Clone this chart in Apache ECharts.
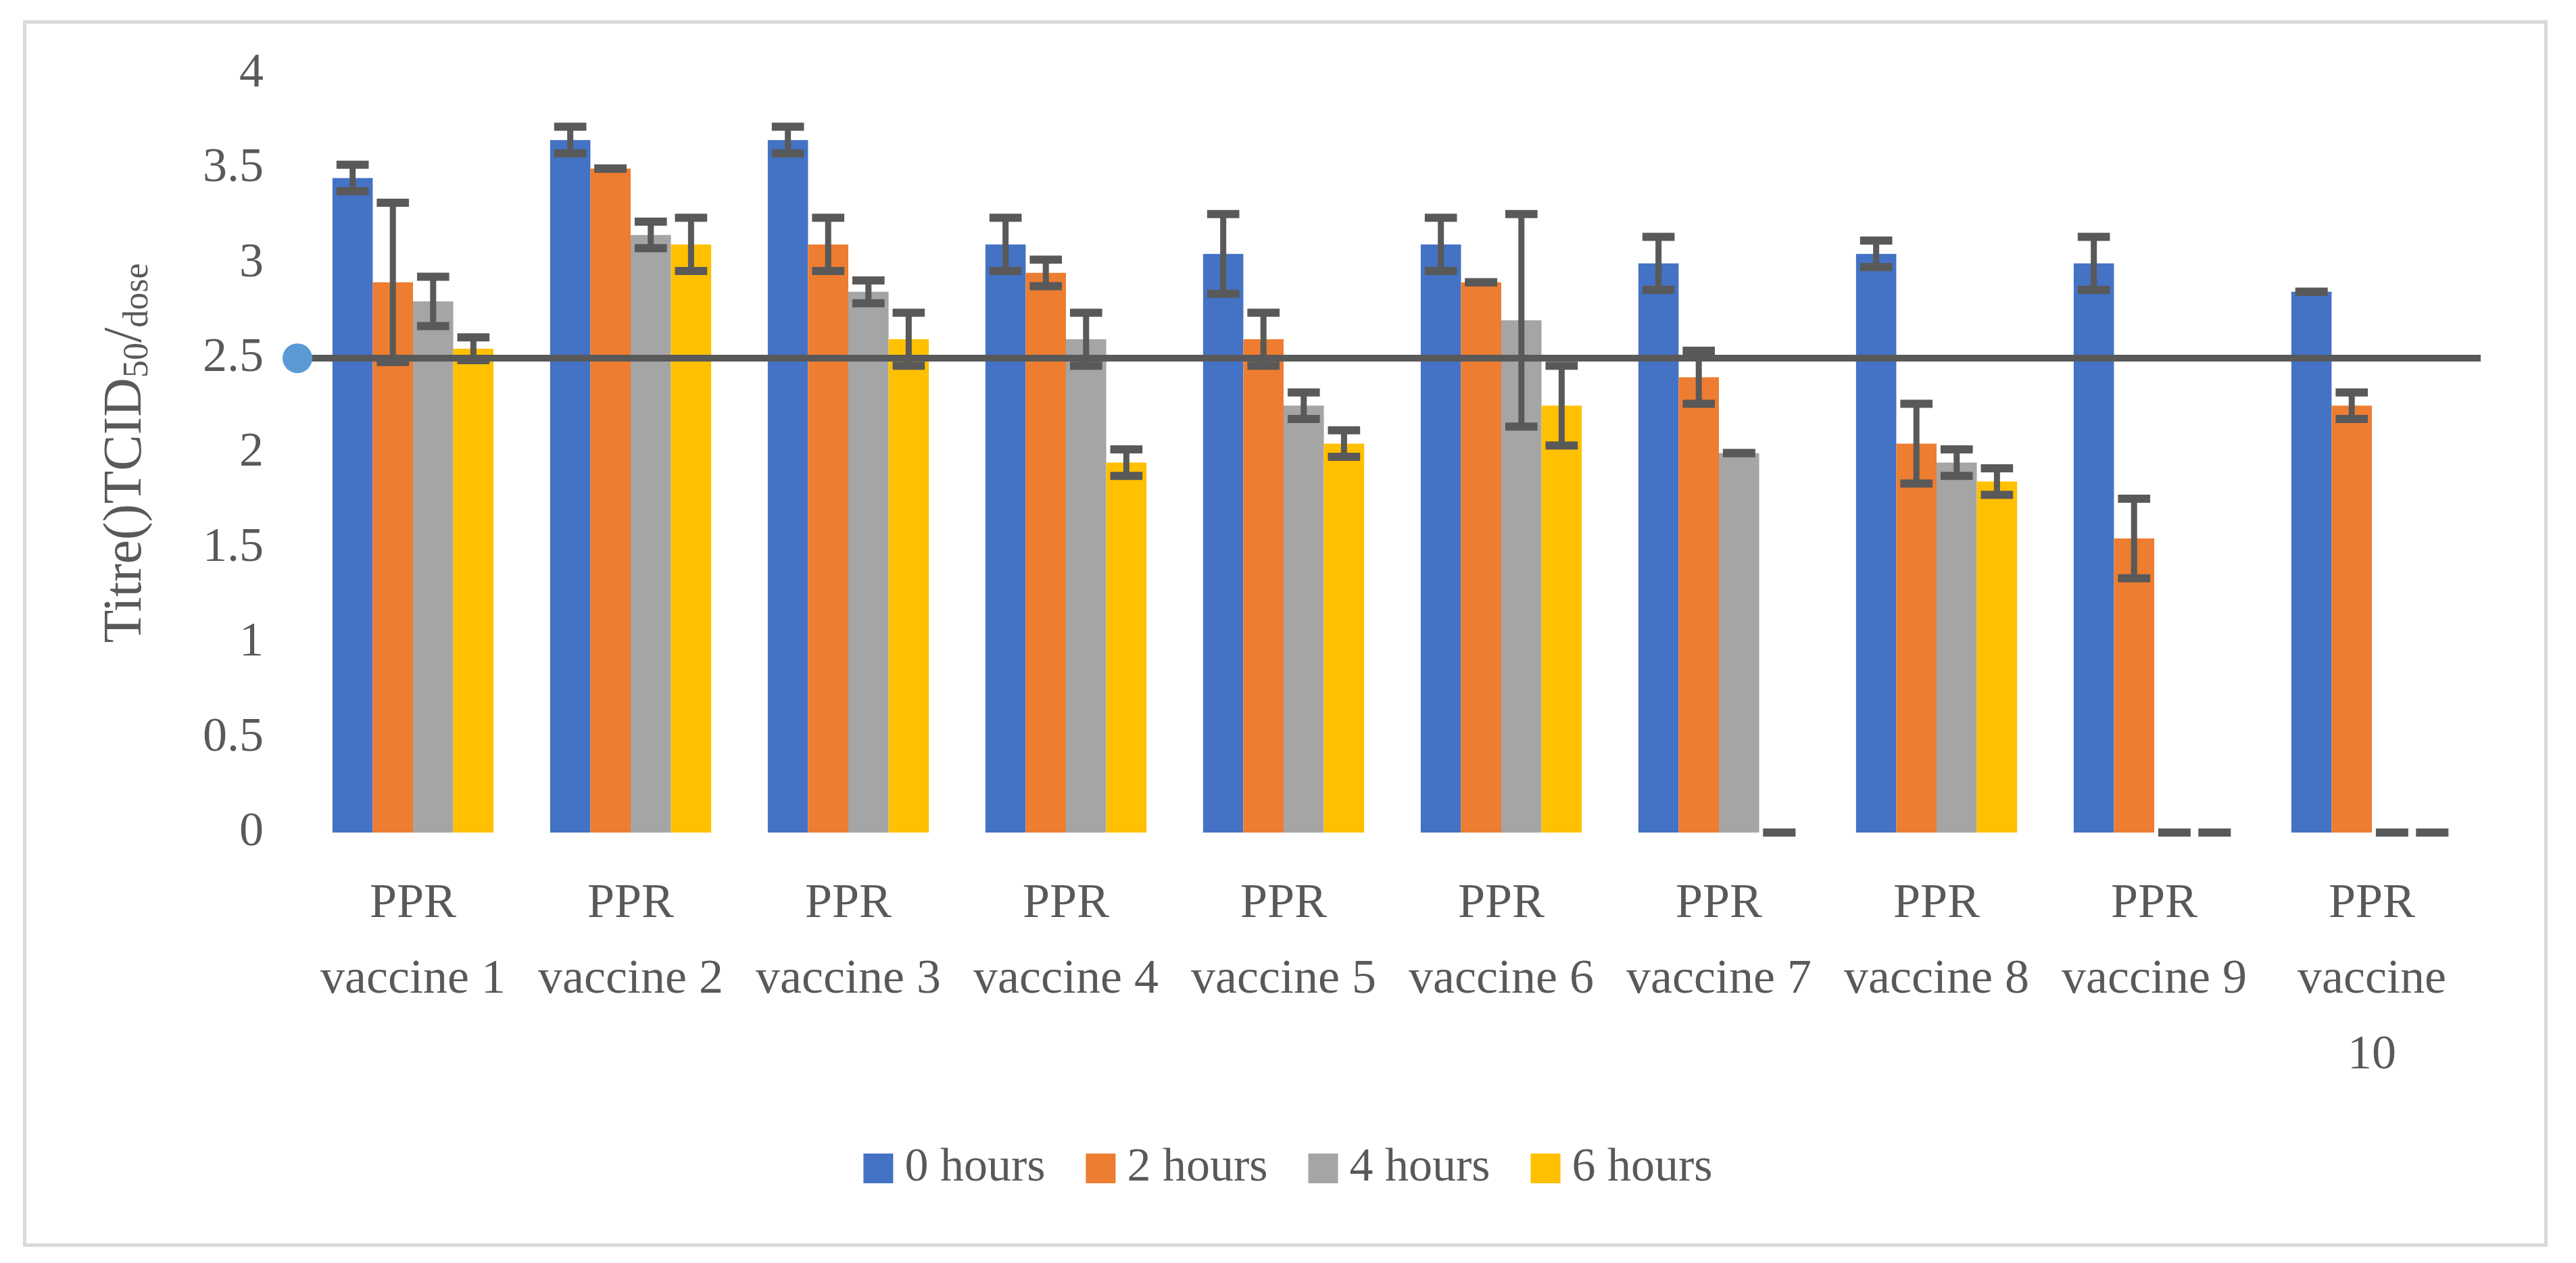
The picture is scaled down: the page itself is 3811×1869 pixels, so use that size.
<!DOCTYPE html>
<html>
<head>
<meta charset="utf-8">
<script src="https://cdn.jsdelivr.net/npm/echarts@6/dist/echarts.min.js"></script>
<style>html,body{margin:0;padding:0;background:#fff}#chart{width:3811px;height:1869px}</style>
</head>
<body>
<div id="chart"></div>
<script>
var categories = ['PPR\nvaccine 1', 'PPR\nvaccine 2', 'PPR\nvaccine 3', 'PPR\nvaccine 4', 'PPR\nvaccine 5',
    'PPR\nvaccine 6', 'PPR\nvaccine 7', 'PPR\nvaccine 8', 'PPR\nvaccine 9', 'PPR\nvaccine\n10'];
var seriesNames = ['0 hours', '2 hours', '4 hours', '6 hours'];
var colors = ['#4472C4', '#ED7D31', '#A5A5A5', '#FFC000'];
var h0 = [3.45, 3.65, 3.65, 3.1, 3.05, 3.1, 3.0, 3.05, 3.0, 2.85];
var h2 = [2.9, 3.5, 3.1, 2.95, 2.6, 2.9, 2.4, 2.05, 1.55, 2.25];
var h4 = [2.8, 3.15, 2.85, 2.6, 2.25, 2.7, 2.0, 1.95, 0, 0];
var h6 = [2.55, 3.1, 2.6, 1.95, 2.05, 2.25, 0, 1.85, 0, 0];
var e0 = [0.07, 0.07, 0.07, 0.14, 0.21, 0.14, 0.14, 0.07, 0.14, 0];
var e2 = [0.42, 0, 0.14, 0.07, 0.14, 0, 0.14, 0.21, 0.21, 0.07];
var e4 = [0.13, 0.07, 0.06, 0.14, 0.07, 0.56, 0, 0.07, 0, 0];
var e6 = [0.06, 0.14, 0.14, 0.07, 0.07, 0.21, 0, 0.07, 0, 0];
var threshold = 2.5;
var yTicks = [0, 0.5, 1, 1.5, 2, 2.5, 3, 3.5, 4];

var values = [h0, h2, h4, h6];
var errors = [e0, e2, e4, e6];
var gapPct = 0.26;
var font = 'Liberation Serif';
var textColor = '#595959';

var myChart = echarts.init(document.getElementById('chart'));

var series = [];
values.forEach(function (vals, i) {
    var s = {
        name: seriesNames[i],
        type: 'bar',
        data: vals,
        itemStyle: {color: colors[i]},
        barGap: '0%',
        barCategoryGap: (gapPct * 100) + '%'
    };
    if (i === 0) {
        s.markLine = {
            silent: true,
            symbol: 'none',
            label: {show: false},
            lineStyle: {color: textColor, width: 10, type: 'solid'},
            data: [{yAxis: threshold}]
        };
    }
    series.push(s);
});

errors.forEach(function (errs, i) {
    series.push({
        type: 'custom',
        silent: true,
        z: 5,
        data: errs.map(function (e, k) { return [k, values[i][k], e]; }),
        renderItem: function (params, api) {
            var k = api.value(0), v = api.value(1), e = api.value(2);
            var catW = api.size([1, 0])[0];
            var barW = catW * (1 - gapPct) / 4;
            var c = api.coord([k, v]);
            var x = c[0] + (i - 1.5) * barW;
            var top = api.coord([k, v + e])[1];
            var bot = api.coord([k, v - e])[1];
            var cap = barW * 0.8;
            var st = {stroke: textColor, lineWidth: 9};
            var capSt = {stroke: textColor, lineWidth: 12};
            return {
                type: 'group',
                children: [
                    {type: 'line', shape: {x1: x, y1: top, x2: x, y2: bot}, style: st},
                    {type: 'line', shape: {x1: x - cap / 2, y1: top, x2: x + cap / 2, y2: top}, style: capSt},
                    {type: 'line', shape: {x1: x - cap / 2, y1: bot, x2: x + cap / 2, y2: bot}, style: capSt}
                ]
            };
        }
    });
});

// blue dot at the start of the threshold line
series.push({
    type: 'custom',
    silent: true,
    z: 6,
    clip: false,
    data: [[0, threshold]],
    renderItem: function (params, api) {
        var c = api.coord([api.value(0), api.value(1)]);
        var catW = api.size([1, 0])[0];
        return {
            type: 'circle',
            shape: {cx: c[0] - catW / 2 - 10, cy: c[1], r: 22},
            style: {fill: '#5B9BD5'}
        };
    }
});

var option = {
    animation: false,
    textStyle: {fontFamily: font},
    graphic: [{
        type: 'rect', left: 34, top: 30,
        shape: {width: 3730, height: 1810},
        style: {fill: 'none', stroke: '#d9d9d9', lineWidth: 5}
    }],
    legend: {
        data: seriesNames,
        bottom: 100,
        itemWidth: 44, itemHeight: 44, itemGap: 60,
        icon: 'rect',
        textStyle: {fontFamily: font, fontSize: 70, color: textColor, padding: [0, 0, 0, 12]}
    },
    grid: {left: 450, right: 141, top: 109, bottom: 637},
    xAxis: {
        type: 'category',
        data: categories,
        axisLine: {show: false},
        axisTick: {show: false},
        axisLabel: {fontFamily: font, fontSize: 72, color: textColor, lineHeight: 112, margin: 50, interval: 0}
    },
    yAxis: {
        type: 'value',
        min: yTicks[0], max: yTicks[yTicks.length - 1], interval: 0.5,
        splitLine: {show: false},
        axisLine: {show: false},
        axisTick: {show: false},
        axisLabel: {fontFamily: font, fontSize: 72, color: textColor, margin: 60},
        name: 'Titre()TCID{sub|50}/{sub|dose}',
        nameLocation: 'middle',
        nameGap: 220,
        nameTextStyle: {
            fontFamily: font, fontSize: 80, color: textColor,
            rich: {sub: {fontFamily: font, fontSize: 52, color: textColor, padding: [34, 0, 0, 0]}}
        }
    },
    series: series
};
myChart.setOption(option);
</script>
</body>
</html>
